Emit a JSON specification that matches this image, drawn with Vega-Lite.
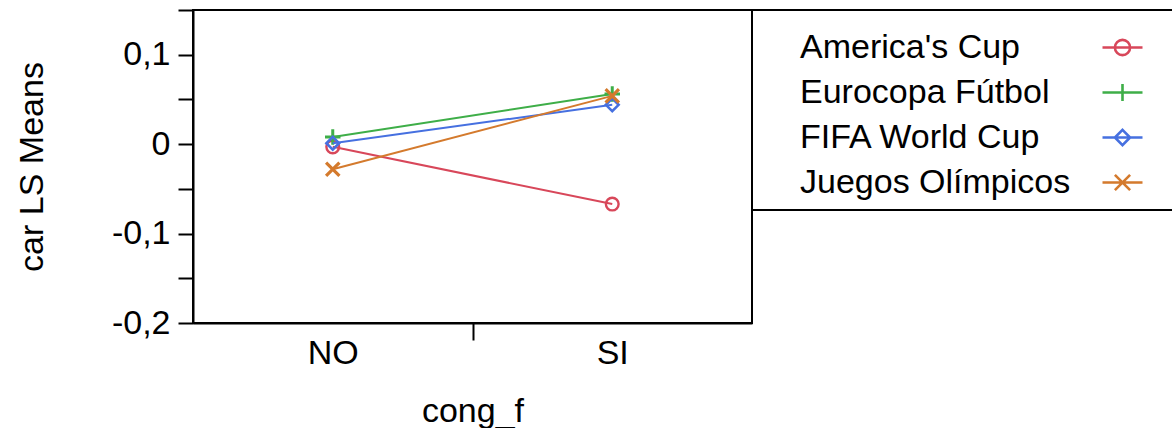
{
  "$schema": "https://vega.github.io/schema/vega-lite/v6.json",
  "width": 559,
  "height": 313,
  "padding": {"left": 15, "top": 9, "right": 0, "bottom": 0},
  "background": "white",
  "data": {
    "values": [
      {"cong": "NO", "evento": "America's Cup", "mean": -0.003},
      {"cong": "SI", "evento": "America's Cup", "mean": -0.067},
      {"cong": "NO", "evento": "Eurocopa Fútbol", "mean": 0.008},
      {"cong": "SI", "evento": "Eurocopa Fútbol", "mean": 0.056},
      {"cong": "NO", "evento": "FIFA World Cup", "mean": 0.001},
      {"cong": "SI", "evento": "FIFA World Cup", "mean": 0.044},
      {"cong": "NO", "evento": "Juegos Olímpicos", "mean": -0.028},
      {"cong": "SI", "evento": "Juegos Olímpicos", "mean": 0.054}
    ]
  },
  "encoding": {
    "x": {
      "field": "cong",
      "type": "nominal",
      "sort": ["NO", "SI"],
      "scale": {"type": "band", "paddingInner": 0, "paddingOuter": 0},
      "axis": {
        "title": "cong_f",
        "labelAngle": 0,
        "tickBand": "extent",
        "tickSize": 17,
        "tickOpacity": {"condition": {"test": "datum.value === 'NO'", "value": 1}, "value": 0},
        "labelPadding": -4,
        "titlePadding": 24
      }
    },
    "y": {
      "field": "mean",
      "type": "quantitative",
      "scale": {"domain": [-0.2, 0.15], "nice": false, "zero": false},
      "axis": {
        "title": "car LS Means",
        "values": [-0.2, -0.15, -0.1, -0.05, 0, 0.05, 0.1, 0.15],
        "labelExpr": "abs(datum.value*10 - round(datum.value*10)) < 0.01 ? replace(replace(format(datum.value, '.1~f'), '.', ','), '\u2212', '-') : ''",
        "tickSize": 15,
        "labelPadding": 8,
        "titlePadding": 62,
        "grid": false
      }
    }
  },
  "layer": [
    {
      "transform": [{"filter": "datum.evento === \"America's Cup\""}],
      "layer": [
        {"mark": {"type": "line", "strokeWidth": 2, "color": "#d8475a"}},
        {"mark": {"type": "point", "filled": false, "size": 200, "strokeWidth": 2.4, "opacity": 1, "color": "#d8475a", "shape": "M0.9,0A0.9,0.9 0 1,1 -0.9,0A0.9,0.9 0 1,1 0.9,0Z"}}
      ]
    },
    {
      "transform": [{"filter": "datum.evento === 'Eurocopa Fútbol'"}],
      "layer": [
        {"mark": {"type": "line", "strokeWidth": 2, "color": "#3eae48"}},
        {"mark": {"type": "point", "filled": false, "size": 240, "strokeWidth": 3, "opacity": 1, "color": "#3eae48", "shape": "M-1,0H1M0,-1V1"}}
      ]
    },
    {
      "transform": [{"filter": "datum.evento === 'FIFA World Cup'"}],
      "layer": [
        {"mark": {"type": "line", "strokeWidth": 2, "color": "#4670e0"}},
        {"mark": {"type": "point", "filled": false, "size": 200, "strokeWidth": 2.6, "opacity": 1, "color": "#4670e0", "shape": "M0,-0.9L0.9,0L0,0.9L-0.9,0Z"}}
      ]
    },
    {
      "transform": [{"filter": "datum.evento === 'Juegos Olímpicos'"}],
      "layer": [
        {"mark": {"type": "line", "strokeWidth": 2, "color": "#d47a2d"}},
        {"mark": {"type": "point", "filled": false, "size": 220, "strokeWidth": 3.2, "opacity": 1, "color": "#d47a2d", "shape": "M-0.9,-0.9L0.9,0.9M-0.9,0.9L0.9,-0.9"}}
      ]
    },
    {
      "mark": {"type": "point", "filled": false, "size": 1, "opacity": 0},
      "encoding": {
        "color": {
          "field": "evento",
          "type": "nominal",
          "scale": {
            "domain": ["America's Cup", "Eurocopa Fútbol", "FIFA World Cup", "Juegos Olímpicos"],
            "range": ["#d8475a", "#3eae48", "#4670e0", "#d47a2d"]
          },
          "legend": {
            "title": " ",
            "titleFontSize": 4,
            "titlePadding": 2,
            "orient": "right",
            "offset": 0,
            "padding": 10,
            "strokeColor": "black",
            "fillColor": "white",
            "labelFontSize": 34,
            "labelFont": "Liberation Sans",
            "labelColor": "black",
            "labelLimit": 500,
            "labelOffset": -344,
            "rowPadding": 6,
            "symbolSize": 1600,
            "symbolOffset": 339,
            "symbolStrokeWidth": 2.6,
            "symbolOpacity": 1,
            "symbolFillColor": "transparent"
          }
        },
        "shape": {
          "field": "evento",
          "type": "nominal",
          "scale": {
            "domain": ["America's Cup", "Eurocopa Fútbol", "FIFA World Cup", "Juegos Olímpicos"],
            "range": [
              "M-1,0H1M0.38,0A0.38,0.38 0 1,1 -0.38,0A0.38,0.38 0 1,1 0.38,0M1.9,0",
              "M-1,0H1M0,-0.42V0.42M1.9,0",
              "M-1,0H1M0,-0.38L0.38,0L0,0.38L-0.38,0ZM1.9,0",
              "M-1,0H1M-0.38,-0.38L0.38,0.38M-0.38,0.38L0.38,-0.38M1.9,0"
            ]
          },
          "legend": {
            "title": " ",
            "titleFontSize": 4,
            "titlePadding": 2,
            "orient": "right",
            "offset": 0,
            "padding": 10,
            "strokeColor": "black",
            "fillColor": "white",
            "labelFontSize": 34,
            "labelFont": "Liberation Sans",
            "labelColor": "black",
            "labelLimit": 500,
            "labelOffset": -344,
            "rowPadding": 6,
            "symbolSize": 1600,
            "symbolOffset": 339,
            "symbolStrokeWidth": 2.6,
            "symbolOpacity": 1,
            "symbolFillColor": "transparent"
          }
        }
      }
    }
  ],
  "config": {
    "font": "Liberation Sans",
    "view": {"stroke": "black", "strokeWidth": 2},
    "legend": {"strokeWidth": 2},
    "axis": {
      "domainColor": "black",
      "domainWidth": 2,
      "tickColor": "black",
      "tickWidth": 2,
      "labelColor": "black",
      "titleColor": "black",
      "labelFontSize": 34,
      "titleFontSize": 34,
      "labelFont": "Liberation Sans",
      "titleFont": "Liberation Sans",
      "titleFontWeight": "normal",
      "grid": false
    }
  }
}
